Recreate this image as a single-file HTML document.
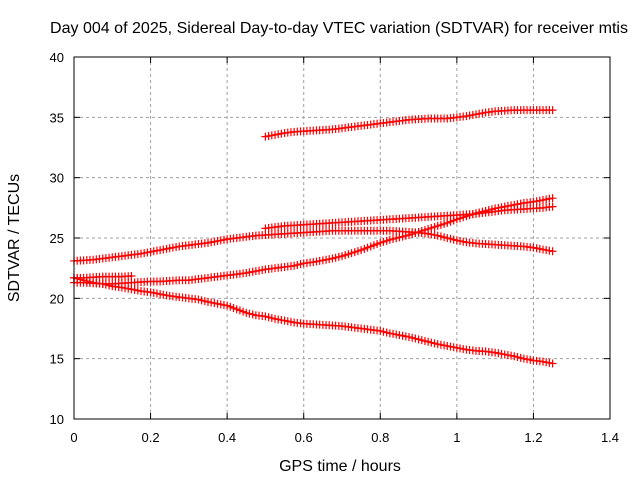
<!DOCTYPE html>
<html><head><meta charset="utf-8"><style>
body{margin:0;background:#fff}
svg{display:block;font-family:"Liberation Sans",sans-serif}
</style></head><body>
<svg id="c" width="640" height="480">
<text x="339" y="33" text-anchor="middle" font-size="16" textLength="578" lengthAdjust="spacingAndGlyphs">Day 004 of 2025, Sidereal Day-to-day VTEC variation (SDTVAR) for receiver mtis</text>
<text x="340" y="471" text-anchor="middle" font-size="16">GPS time / hours</text>
<text transform="translate(19,238) rotate(-90)" text-anchor="middle" font-size="16">SDTVAR / TECUs</text>
<g id="grid"></g><g id="series"></g><g id="axes"></g>
</svg>
<script>
const xTicks=[0,0.2,0.4,0.6,0.8,1,1.2,1.4];
const yTicks=[10,15,20,25,30,35,40];
const step=0.025;
const seriesA=[33.4,33.55,33.7,33.8,33.85,33.9,33.95,34.0,34.1,34.2,34.3,34.4,34.5,34.6,34.7,34.8,34.85,34.9,34.9,34.9,35.0,35.1,35.25,35.4,35.5,35.55,35.6,35.6,35.6,35.6,35.6];
const startA=20;
const seriesB=[23.1,23.15,23.2,23.3,23.4,23.5,23.6,23.7,23.85,24.0,24.15,24.3,24.4,24.5,24.6,24.75,24.9,25.0,25.1,25.2,25.25,25.3,25.35,25.4,25.45,25.5,25.55,25.6,25.6,25.6,25.6,25.6,25.6,25.6,25.55,25.5,25.45,25.35,25.2,25.0,24.8,24.65,24.55,24.5,24.45,24.4,24.35,24.3,24.2,24.05,23.9];
const startB=0;
const seriesC=[25.8,25.9,26.0,26.05,26.1,26.15,26.2,26.25,26.3,26.35,26.4,26.45,26.5,26.55,26.6,26.65,26.7,26.75,26.8,26.85,26.9,26.95,27.0,27.1,27.2,27.3,27.35,27.4,27.45,27.5,27.6];
const startC=20;
const seriesD=[21.7,21.7,21.75,21.8,21.8,21.8,21.85];
const startD=0;
const seriesE=[21.3,21.3,21.25,21.2,21.2,21.25,21.3,21.35,21.4,21.4,21.45,21.5,21.5,21.6,21.7,21.8,21.9,22.0,22.1,22.25,22.4,22.5,22.6,22.7,22.9,23.0,23.15,23.3,23.5,23.75,24.0,24.3,24.6,24.85,25.05,25.25,25.5,25.75,26.0,26.25,26.55,26.8,27.05,27.25,27.45,27.6,27.75,27.9,28.0,28.15,28.3];
const startE=0;
const seriesF=[21.7,21.5,21.3,21.2,21.0,20.9,20.75,20.6,20.5,20.35,20.2,20.1,20.0,19.9,19.7,19.55,19.4,19.1,18.8,18.6,18.5,18.3,18.15,18.0,17.9,17.85,17.8,17.75,17.7,17.6,17.5,17.4,17.3,17.1,16.95,16.8,16.6,16.4,16.2,16.05,15.9,15.75,15.65,15.6,15.5,15.35,15.2,15.0,14.85,14.75,14.6];
const startF=0;

const X0=74,X1=610,Y0=419,Y1=57;
const xs=v=>X0+(v-0)/(1.4-0)*(X1-X0);
const ys=v=>Y0-(v-10)/(40-10)*(Y0-Y1);
const NS="http://www.w3.org/2000/svg";
function mk(t,a,p){const e=document.createElementNS(NS,t);for(const k in a)e.setAttribute(k,a[k]);p.appendChild(e);return e;}
const grid=document.getElementById('grid'),axes=document.getElementById('axes'),ser=document.getElementById('series');
xTicks.forEach(t=>{const x=xs(t);
 if(t>0&&t<1.4){const g=mk('line',{x1:x,y1:Y0,x2:x,y2:Y1,stroke:'#a0a0a0','stroke-dasharray':'3,3'},grid);
 
 }
 mk('line',{x1:x,y1:Y0,x2:x,y2:Y0-6,stroke:'#000'},axes);
 mk('line',{x1:x,y1:Y1,x2:x,y2:Y1+6,stroke:'#000'},axes);
 const l=mk('text',{x:x,y:Y0+23,'text-anchor':'middle','font-size':13},axes);l.textContent=t;
 
 });
yTicks.forEach(t=>{const y=ys(t);
 if(t>10&&t<40){const g=mk('line',{x1:X0,y1:y,x2:X1,y2:y,stroke:'#a0a0a0','stroke-dasharray':'3,3'},grid);
 
 }
 mk('line',{x1:X0,y1:y,x2:X0+6,y2:y,stroke:'#000'},axes);
 mk('line',{x1:X1,y1:y,x2:X1-6,y2:y,stroke:'#000'},axes);
 const l=mk('text',{x:X0-10,y:y+5,'text-anchor':'end','font-size':13},axes);l.textContent=t;
 
 });
const fr=mk('rect',{x:X0,y:Y1,width:X1-X0,height:Y0-Y1,fill:'none',stroke:'#000'},axes);


const all=[[seriesA,startA,'series-a'],[seriesB,startB,'series-b'],[seriesC,startC,'series-c'],[seriesD,startD,'series-d'],[seriesE,startE,'series-e'],[seriesF,startF,'series-f']];
all.forEach(([vals,st,name])=>{
 const g=mk('g',{},ser);
 
 
 const pts=vals.map((v,i)=>[xs((st+i)*step),ys(v)]);
 mk('polyline',{points:pts.map(p=>p.join(',')).join(' '),fill:'none',stroke:'#f00','stroke-width':1.5},g);
 let d='';pts.forEach(([x,y])=>{d+=`M${x-4},${y}h8M${x},${y-4}v8`;});
 for(let i=0;i<pts.length-1;i++){for(let k=1;k<3;k++){const f=k/3;const x=pts[i][0]+(pts[i+1][0]-pts[i][0])*f,y=pts[i][1]+(pts[i+1][1]-pts[i][1])*f;d+=`M${x-4},${y}h8M${x},${y-4}v8`;}}
 mk('path',{d:d,stroke:'#f00','stroke-width':1.2,fill:'none'},g);
});
</script>
</body></html>
